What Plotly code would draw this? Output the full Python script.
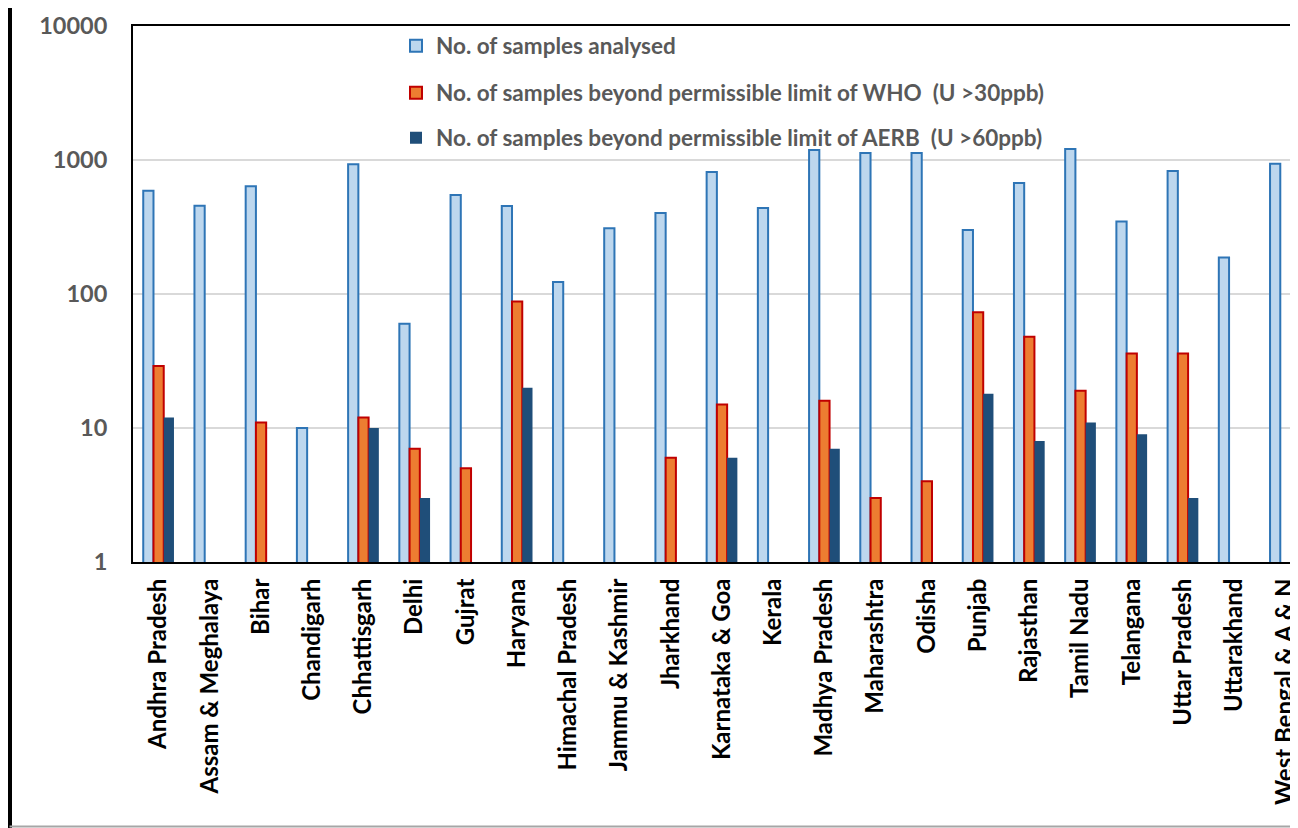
import plotly.graph_objects as go

states = ["Andhra Pradesh", "Assam & Meghalaya", "Bihar", "Chandigarh", "Chhattisgarh",
          "Delhi", "Gujrat", "Haryana", "Himachal Pradesh", "Jammu & Kashmir", "Jharkhand",
          "Karnataka & Goa", "Kerala", "Madhya Pradesh", "Maharashtra", "Odisha", "Punjab",
          "Rajasthan", "Tamil Nadu", "Telangana", "Uttar Pradesh", "Uttarakhand",
          "West Bengal & A & N"]

analysed = [590, 456, 637, 10, 929, 60, 548, 454, 123, 310, 402, 812, 438, 1188, 1128,
            1130, 300, 673, 1208, 347, 828, 187, 938]
beyond_who = [29, None, 11, None, 12, 7, 5, 88, None, None, 6, 15, None, 16, 3, 4, 73,
              48, 19, 36, 36, None, None]
beyond_aerb = [12, None, None, None, 10, 3, None, 20, None, None, None, 6, None, 7, None,
               None, 18, 8, 11, 9, 3, None, None]

series_names = ["No. of samples analysed",
                "No. of samples beyond permissible limit of WHO  (U >30ppb)",
                "No. of samples beyond permissible limit of AERB  (U >60ppb)"]

y_ticks = [1, 10, 100, 1000, 10000]
y_tick_text = ["1", "10", "100", "1000", "10000"]

FONT = "Lato"
OFF = 8  # page body margin
W, H = 1290, 820
PLOT_L, PLOT_T, PLOT_B = 133 - OFF, 26 - OFF, 562 - OFF
ML, MR, MT, MB = PLOT_L, 0, PLOT_T, H - PLOT_B
plot_w = W - ML - MR
plot_h = H - MT - MB


def px_x(x):  # page pixel -> paper
    return (x - OFF - ML) / plot_w


def px_y(y):  # page pixel -> paper
    return (PLOT_B - (y - OFF)) / plot_h


fig = go.Figure()
fig.add_trace(go.Bar(x=states, y=analysed, name=series_names[0], legend="legend",
                     marker=dict(color="#BDD7EE", line=dict(color="#2E75B6", width=2))))
fig.add_trace(go.Bar(x=states, y=beyond_who, name=series_names[1], legend="legend2",
                     marker=dict(color="#ED7D31", line=dict(color="#C00000", width=2))))
fig.add_trace(go.Bar(x=states, y=beyond_aerb, name=series_names[2], legend="legend3",
                     marker=dict(color="#1F4E79", line=dict(color="#1F4E79", width=0))))

legend_common = dict(x=px_x(396), xanchor="left", yanchor="middle",
                     bgcolor="rgba(0,0,0,0)", borderwidth=0,
                     font=dict(family=FONT, size=22.5, color="#595959", weight="bold"))

fig.update_layout(
    width=W, height=H,
    margin=dict(l=ML, r=MR, t=MT, b=MB, pad=0),
    paper_bgcolor="white", plot_bgcolor="white",
    barmode="group", bargap=0.4, bargroupgap=0,
    showlegend=True,
    legend=dict(y=px_y(46), **legend_common),
    legend2=dict(y=px_y(93), **legend_common),
    legend3=dict(y=px_y(138), **legend_common),
    xaxis=dict(
        type="category", range=[-0.5, 22.246],
        showline=True, linecolor="black", linewidth=2, mirror=True,
        showgrid=False, ticks="", tickangle=-90, ticklabelstandoff=5,
        tickfont=dict(family=FONT, size=24, color="black", weight="bold"),
    ),
    yaxis=dict(
        type="log", range=[0, 4],
        tickvals=y_ticks, ticktext=y_tick_text,
        showline=True, linecolor="black", linewidth=2,
        showgrid=True, gridcolor="#D9D9D9", gridwidth=2,
        ticks="", ticklabelstandoff=19,
        tickfont=dict(family=FONT, size=23.5, color="#595959", weight="bold"),
        zeroline=False,
    ),
    shapes=[
        dict(type="line", xref="paper", yref="paper",
             x0=px_x(9.5), x1=px_x(9.5), y0=px_y(0), y1=px_y(840),
             line=dict(color="black", width=5)),
        dict(type="line", xref="paper", yref="paper",
             x0=px_x(9.5), x1=px_x(1310), y0=px_y(826.5), y1=px_y(826.5),
             line=dict(color="#A6A6A6", width=2)),
    ],
)

fig.write_html("out.html")
